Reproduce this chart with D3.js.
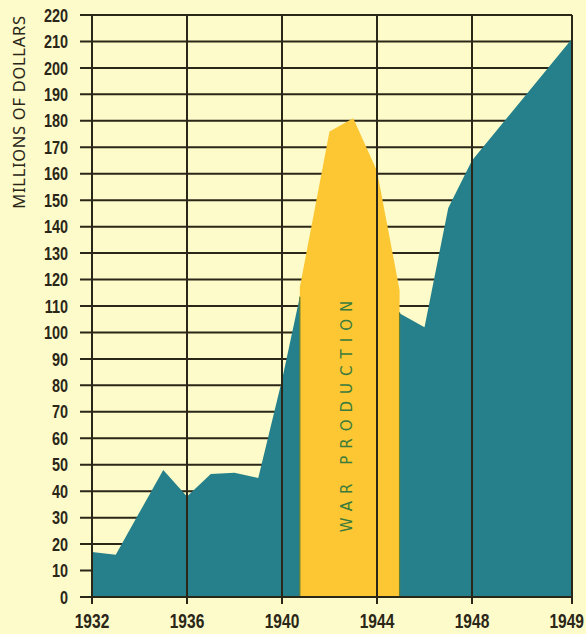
<!DOCTYPE html>
<html>
<head>
<meta charset="utf-8">
<script src="https://cdn.jsdelivr.net/npm/d3@7"></script>
<style>
  html, body { margin: 0; padding: 0; background: #fdfbc9; }
  #chart { width: 586px; height: 634px; }
</style>
</head>
<body>
<div id="chart"></div>
<script>
// Values (millions of dollars)
const years = [1932, 1933, 1934, 1935, 1936, 1937, 1938, 1939, 1940, 1941, 1942, 1943, 1944, 1945, 1946, 1947, 1948, 1949];
const income = [17, 16, 32, 48, 38, 46.5, 47, 45, 82, 124, 122, 121, 118, 107, 102, 147, 165, 211];

// war production band, start and end are partway through a year
const warYears = [1940.75, 1940.75, 1942, 1943, 1944, 1944.95, 1944.95];
const warValues = [0, 117, 176, 181, 161, 116, 0];

const xTickYears = [1932, 1936, 1940, 1944, 1948, 1949];
const yTicks = d3.range(0, 221, 10);

const width = 586, height = 634;

const svg = d3.select("#chart")
    .append("svg")
    .attr("width", width)
    .attr("height", height)
    .attr("viewBox", [0, 0, width, height]);

svg.append("rect")
    .attr("width", width)
    .attr("height", height)
    .attr("fill", "#fdfbc9");

// the last year gets a wider step on the original, so the scale is piecewise
const x = d3.scaleLinear()
    .domain([1932, 1948, 1949])
    .range([92, 472, 572]);

const y = d3.scaleLinear()
    .domain([0, 220])
    .range([597, 15]);

// teal height at any year, used for the olive edge lines
const tealAt = d3.scaleLinear().domain(years).range(income);

const ink = "#2a2618";
const labelFont = "'Liberation Sans', Arial, sans-serif";

// Horizontal grid (sits behind the areas)
svg.append("g")
    .selectAll("line")
    .data(yTicks)
    .join("line")
    .attr("x1", 80)
    .attr("x2", x(1949))
    .attr("y1", d => y(d))
    .attr("y2", d => y(d))
    .attr("stroke", ink)
    .attr("stroke-width", 2);

// Teal area
const area = d3.area()
    .x(d => x(d[0]))
    .y0(y(0))
    .y1(d => y(d[1]));

svg.append("path")
    .datum(d3.zip(years, income))
    .attr("d", area)
    .attr("fill", "#25808b");

// Yellow war production shape
const warLine = d3.line()
    .x(d => x(d[0]))
    .y(d => y(d[1]));

svg.append("path")
    .datum(d3.zip(warYears, warValues))
    .attr("d", warLine)
    .attr("fill", "#fcc733");

// thin olive edges where the yellow meets the teal
const edgeYears = [warYears[0], warYears[warYears.length - 1]];
svg.append("g")
    .selectAll("line")
    .data(edgeYears)
    .join("line")
    .attr("x1", d => x(d))
    .attr("x2", d => x(d))
    .attr("y1", y(0))
    .attr("y2", d => y(Math.min(116, tealAt(d))))
    .attr("stroke", "#5f7d37")
    .attr("stroke-width", 1.2);

// Vertical lines on top, with tick below the axis
svg.append("g")
    .selectAll("line")
    .data(xTickYears)
    .join("line")
    .attr("x1", d => x(d))
    .attr("x2", d => x(d))
    .attr("y1", y(220))
    .attr("y2", y(0) + 7)
    .attr("stroke", ink)
    .attr("stroke-width", 2);

// bottom axis line
svg.append("line")
    .attr("x1", 80)
    .attr("x2", x(1949))
    .attr("y1", y(0))
    .attr("y2", y(0))
    .attr("stroke", ink)
    .attr("stroke-width", 2.2);

// Y labels, squeezed to look like the condensed type of the original
svg.append("g")
    .selectAll("text")
    .data(yTicks)
    .join("text")
    .attr("transform", d => `translate(68,${y(d)}) scale(0.78,1)`)
    .attr("dy", "0.36em")
    .attr("text-anchor", "end")
    .attr("font-family", labelFont)
    .attr("font-weight", "bold")
    .attr("font-size", 18.5)
    .attr("fill", ink)
    .text(d => d);

// X labels
svg.append("g")
    .selectAll("text")
    .data(xTickYears)
    .join("text")
    .attr("transform", d => d === 1949
        ? `translate(${x(d) + 12},628) scale(0.74,1)`
        : `translate(${x(d)},628) scale(0.74,1)`)
    .attr("text-anchor", d => d === 1949 ? "end" : "middle")
    .attr("font-family", labelFont)
    .attr("font-weight", "bold")
    .attr("font-size", 21)
    .attr("fill", ink)
    .text(d => d);

// Axis title
svg.append("text")
    .attr("transform", "translate(25,112) rotate(-90)")
    .attr("text-anchor", "middle")
    .attr("font-family", "'Noto Sans', 'Open Sans', sans-serif")
    .attr("font-size", 16.5)
    .attr("letter-spacing", 0.7)
    .attr("fill", ink)
    .text("MILLIONS OF DOLLARS");

// War production label
svg.append("text")
    .attr("transform", `translate(352,413) rotate(-90)`)
    .attr("text-anchor", "middle")
    .attr("font-family", "'DejaVu Sans', sans-serif")
    .attr("font-size", 15)
    .attr("letter-spacing", 7)
    .attr("fill", "#3a7a3c")
    .text("WAR PRODUCTION");
</script>
</body>
</html>
